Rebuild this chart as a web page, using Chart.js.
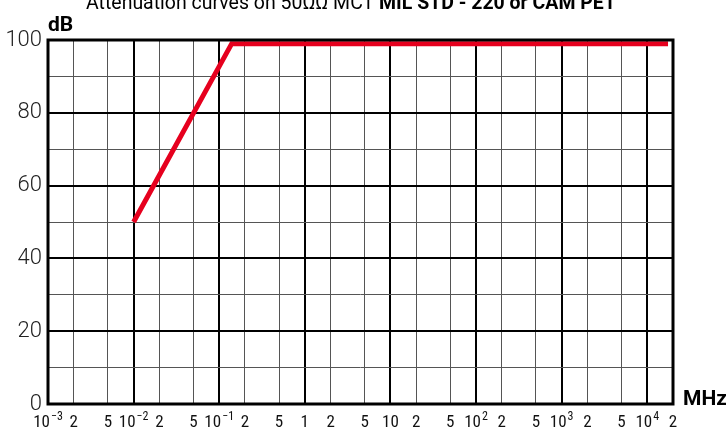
<!DOCTYPE html>
<html>
<head>
<meta charset="utf-8">
<script src="https://cdn.jsdelivr.net/npm/chart.js@4/dist/chart.umd.min.js"></script>
<style>
html,body{margin:0;padding:0;background:#fff;}
#wrap{position:relative;width:726px;height:428px;}
</style>
</head>
<body>
<div id="wrap"><canvas id="c" width="726" height="428"></canvas></div>
<script>
// ---- data ----
const frequencyMHz = [0.01, 0.14, 17500];
const attenuationDb = [50, 99, 99];
const xTickValues = [0.001,0.002,0.005,0.01,0.02,0.05,0.1,0.2,0.5,1,2,5,10,20,50,100,200,500,1000,2000,5000,10000,20000];
const xTickLabels = ['10^-3','2','5','10^-2','2','5','10^-1','2','5','1','2','5','10','2','5','10^2','2','5','10^3','2','5','10^4','2'];
const yTickLabels = {0:'0',20:'20',40:'40',60:'60',80:'80',100:'100'};
const titleNormal = 'Attenuation curves on 50ΩΩ MCT ';
const titleBold = 'MIL STD - 220 or CAM PE1';

const isDecade = v => Math.abs(Math.log10(v) - Math.round(Math.log10(v))) < 1e-6;
const LABEL_FONT = '"Roboto Condensed", "Liberation Sans Narrow", "Roboto", sans-serif';

const framePlugin = {
  id: 'frame',
  afterDraw(chart) {
    const {ctx, chartArea: a} = chart;
    ctx.save();
    ctx.strokeStyle = '#000';
    ctx.lineWidth = 3;
    ctx.strokeRect(a.left, a.top, a.right - a.left, a.bottom - a.top);

    // x tick labels (with superscript exponents), positioned by the x scale
    const xs = chart.scales.x;
    ctx.fillStyle = '#111';
    ctx.textBaseline = 'alphabetic';
    ctx.textAlign = 'left';
    const baseY = 427;
    xTickValues.forEach((v, i) => {
      const px = xs.getPixelForValue(v);
      const lab = xTickLabels[i];
      const parts = lab.split('^');
      ctx.font = '17px ' + LABEL_FONT;
      const wb = ctx.measureText(parts[0]).width;
      let we = 0, expTxt = '';
      if (parts.length > 1) {
        expTxt = parts[1].replace('-', '−');
        ctx.font = '12px ' + LABEL_FONT;
        we = ctx.measureText(expTxt).width + 1;
      }
      const x0 = px - (wb + we) / 2;
      ctx.font = '17px ' + LABEL_FONT;
      ctx.fillText(parts[0], x0, baseY);
      if (expTxt) {
        ctx.font = '12px ' + LABEL_FONT;
        ctx.fillText(expTxt, x0 + wb + 1, baseY - 7);
      }
    });

    // title (partly clipped at top)
    ctx.fillStyle = '#000';
    const tf = '21px "Roboto", "Liberation Sans", sans-serif';
    const tfb = 'bold 21px "Roboto", "Liberation Sans", sans-serif';
    ctx.font = tf;
    const w1 = ctx.measureText(titleNormal).width;
    ctx.font = tfb;
    const w2 = ctx.measureText(titleBold).width;
    const target = 529, sx = target / (w1 + w2);
    ctx.save();
    ctx.translate(86, 9);
    ctx.scale(sx, 1);
    ctx.font = tf;
    ctx.fillText(titleNormal, 0, 0);
    ctx.font = tfb;
    ctx.fillText(titleBold, w1, 0);
    ctx.restore();

    // axis units
    ctx.font = 'bold 21px "Roboto", "DejaVu Sans", sans-serif';
    ctx.fillText('dB', a.left, 31);
    ctx.fillText('MHz', a.right + 10, 405);
    ctx.restore();
  }
};

new Chart(document.getElementById('c'), {
  type: 'line',
  data: {
    datasets: [{
      data: frequencyMHz.map((f, i) => ({x: f, y: attenuationDb[i]})),
      borderColor: '#e6001e',
      borderWidth: 5,
      pointRadius: 0,
      tension: 0,
      fill: false,
      borderCapStyle: 'butt',
      borderJoinStyle: 'miter'
    }]
  },
  plugins: [framePlugin],
  options: {
    responsive: false,
    animation: false,
    events: [],
    layout: {padding: {top: 40, right: 53, left: 0, bottom: 0}},
    plugins: {legend: {display: false}, tooltip: {enabled: false}, title: {display: false}},
    scales: {
      x: {
        type: 'logarithmic',
        min: 0.001,
        max: 20000,
        afterBuildTicks(scale) { scale.ticks = xTickValues.map(v => ({value: v})); },
        afterFit(scale) { scale.height = 24; scale.paddingLeft = 0; scale.paddingRight = 0; },
        border: {display: false},
        grid: {
          drawTicks: false,
          color: ctx => (ctx.tick && isDecade(ctx.tick.value)) ? '#000' : '#555',
          lineWidth: ctx => (ctx.tick && isDecade(ctx.tick.value)) ? 2 : 1
        },
        ticks: {display: false, autoSkip: false, maxRotation: 0}
      },
      y: {
        min: 0,
        max: 100,
        afterFit(scale) { scale.width = 48; },
        border: {display: false},
        grid: {
          drawTicks: false,
          color: ctx => (ctx.tick && ctx.tick.value % 20 === 0) ? '#000' : '#555',
          lineWidth: ctx => (ctx.tick && ctx.tick.value % 20 === 0) ? 2 : 1
        },
        ticks: {
          stepSize: 10,
          padding: 6,
          color: '#222',
          font: {family: 'Roboto', size: 22, weight: '300'},
          callback: v => (yTickLabels[v] !== undefined ? yTickLabels[v] : '')
        }
      }
    }
  }
});
</script>
</body>
</html>
